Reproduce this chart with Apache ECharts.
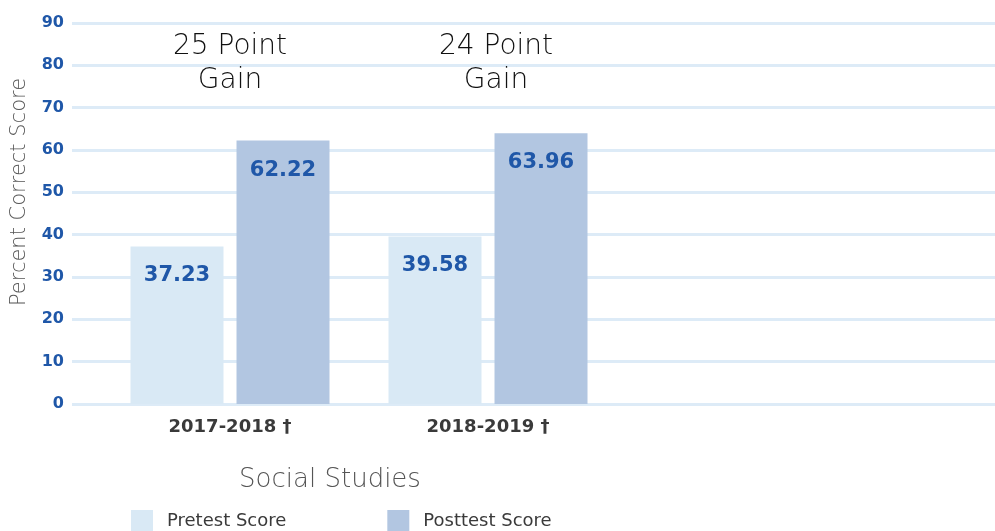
<!DOCTYPE html>
<html>
<head>
<meta charset="utf-8">
<title>Social Studies</title>
<script src="https://cdn.jsdelivr.net/npm/echarts@6/dist/echarts.min.js"></script>
<style>
    html, body {
        margin: 0;
        padding: 0;
        background: #fff;
    }
    #chart {
        width: 995px;
        height: 531px;
    }
</style>
</head>
<body>
<div id="chart"></div>
<script>
const categories = ['2017-2018 †', '2018-2019 †'];
const pretest = [37.23, 39.58];
const posttest = [62.22, 63.96];
const gainLabels = ['25 Point\nGain', '24 Point\nGain'];
const yTicks = [0, 90, 10];

const BLUE = '#1f57a8';
const PRE_COLOR = '#d9e9f5';
const POST_COLOR = '#b2c6e1';
const FONT = 'DejaVu Sans';

const chart = echarts.init(document.getElementById('chart'));

const barLabel = {
    show: true,
    position: 'insideTop',
    distance: 19,
    color: BLUE,
    fontFamily: FONT,
    fontWeight: 'bold',
    fontSize: 21
};

const option = {
    animation: false,
    textStyle: {
        fontFamily: FONT
    },
    // grid 0 carries the full-width gridlines, grid 1 the bars
    grid: [
        {left: 72, right: 0, top: 23, bottom: 127},
        {left: 101, width: 516, top: 23, bottom: 127}
    ],
    xAxis: [
        {gridIndex: 0, type: 'value', show: false, min: 0, max: 1},
        {
            gridIndex: 1,
            type: 'category',
            data: categories,
            axisLine: {show: false},
            axisTick: {show: false},
            axisLabel: {
                margin: 14,
                color: '#3a3a3a',
                fontWeight: 'bold',
                fontSize: 18,
                fontFamily: FONT
            }
        }
    ],
    yAxis: [
        {
            gridIndex: 0,
            type: 'value',
            min: yTicks[0],
            max: yTicks[1],
            interval: yTicks[2],
            axisLine: {show: false},
            axisTick: {show: false},
            axisLabel: {
                margin: 8,
                color: BLUE,
                fontWeight: 'bold',
                fontSize: 16,
                fontFamily: FONT
            },
            splitLine: {
                lineStyle: {color: '#ddebf7', width: 3}
            }
        },
        {
            gridIndex: 1,
            type: 'value',
            min: yTicks[0],
            max: yTicks[1],
            show: false
        }
    ],
    legend: {
        left: 131,
        top: 510,
        padding: 0,
        itemWidth: 22,
        itemHeight: 22,
        itemGap: 101,
        icon: 'rect',
        textStyle: {
            color: '#3a3a3a',
            fontSize: 18,
            fontFamily: FONT,
            padding: [0, 0, 0, 9]
        },
        data: ['Pretest Score', 'Posttest Score']
    },
    series: [
        {
            name: 'Pretest Score',
            type: 'bar',
            xAxisIndex: 1,
            yAxisIndex: 1,
            data: pretest,
            barWidth: 93,
            barGap: '14%',
            itemStyle: {color: PRE_COLOR},
            label: barLabel
        },
        {
            name: 'Posttest Score',
            type: 'bar',
            xAxisIndex: 1,
            yAxisIndex: 1,
            data: posttest,
            barWidth: 93,
            itemStyle: {color: POST_COLOR},
            label: barLabel
        }
    ]
};

chart.setOption(option);

// annotations placed through the axes
const graphics = [
    {
        type: 'text',
        rotation: Math.PI / 2,
        x: 20,
        y: 192,
        style: {
            text: 'Percent Correct Score',
            fill: '#555',
            font: '200 21px "DejaVu Sans"',
            align: 'center',
            verticalAlign: 'middle'
        }
    },
    {
        type: 'text',
        x: 330,
        y: 480,
        style: {
            text: 'Social Studies',
            fill: '#555',
            font: '200 26px "DejaVu Sans"',
            align: 'center',
            verticalAlign: 'middle'
        }
    }
];

gainLabels.forEach((text, i) => {
    const pos = chart.convertToPixel({xAxisIndex: 1, yAxisIndex: 1}, [i, 80.5]);
    graphics.push({
        type: 'text',
        x: pos[0] + (i === 1 ? 8 : 0),
        y: pos[1] + 1,
        style: {
            text: text,
            fill: '#111',
            font: '200 28px "DejaVu Sans"',
            lineHeight: 34,
            align: 'center',
            verticalAlign: 'middle'
        }
    });
});

chart.setOption({graphic: graphics});
</script>
</body>
</html>
